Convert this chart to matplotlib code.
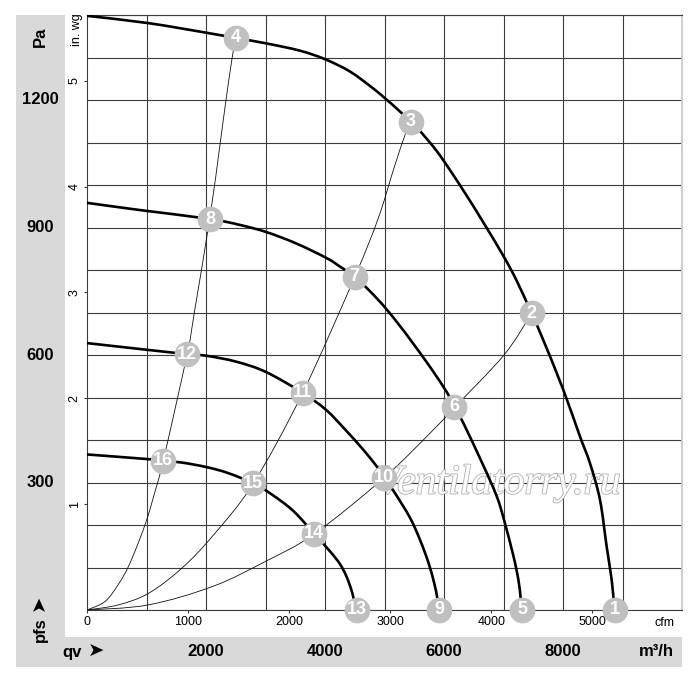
import matplotlib
matplotlib.use("Agg")
import matplotlib.pyplot as plt
import matplotlib.patheffects as pe
from matplotlib.patches import Rectangle, PathPatch
from matplotlib.path import Path
from matplotlib.transforms import blended_transform_factory

plt.rcParams['font.family'] = ['Liberation Sans', 'DejaVu Sans']

# fan curves: flow in m3/h, static pressure in Pa
curve1_q = [0, 1025, 2017, 2500, 3020, 3580, 4000, 4420, 4812, 5008, 5205, 5440, 5597, 5877,
            6101, 6381, 6661, 7003, 7224, 7473, 7669, 8005, 8286, 8454, 8622, 8734, 8818, 8857, 8880]
curve1_p = [1398, 1381, 1358, 1346, 1333, 1316, 1296, 1267, 1227, 1204, 1180, 1149, 1127, 1080,
            1035, 975, 912, 832, 774, 698, 635, 518, 408, 345, 259, 149, 71, 16, 0]

curve2_q = [0, 891, 2067, 2571, 3020, 3524, 4028, 4252, 4500, 4756, 5008, 5261, 5429, 5765,
            6045, 6173, 6325, 6661, 6885, 7003, 7165, 7249, 7288, 7300]
curve2_p = [958, 941, 920, 906, 889, 862, 828, 808, 784, 750, 712, 668, 637, 572,
            513, 480, 440, 340, 268, 215, 128, 72, 28, 0]

curve3_q = [0, 1025, 1686, 2017, 2516, 3008, 3625, 4017, 4336, 4644, 4868, 4992, 5176, 5429,
            5597, 5737, 5832, 5888, 5910]
curve3_p = [628, 612, 602, 598, 584, 560, 511, 471, 425, 377, 338, 313, 275, 217,
            165, 112, 65, 28, 0]

curve4_q = [0, 1025, 1283, 1591, 2017, 2375, 2796, 3104, 3468, 3821, 4084, 4252, 4364,
            4448, 4487, 4500]
curve4_p = [366, 355, 351, 347, 336, 322, 298, 272, 233, 179, 138, 108, 78,
            45, 22, 0]

# system resistance lines
sysA_q = [0, 303, 526, 695, 862, 1003, 1115, 1283, 1686, 1804, 2067, 2235, 2336, 2440, 2500]
sysA_p = [0, 20, 60, 102, 158, 212, 265, 352, 604, 700, 925, 1095, 1200, 1300, 1347]

sysB_q = [0, 526, 1031, 1591, 2123, 2796, 3625, 4500, 4896, 5148, 5345, 5440]
sysB_p = [0, 12, 39, 98, 176, 298, 511, 784, 922, 1035, 1118, 1149]

sysC_q = [0, 1031, 2123, 3008, 3821, 4992, 5821, 6173, 7008, 7473]
sysC_p = [0, 12, 56, 115, 179, 311, 424, 476, 600, 698]

# numbered operating points
badge_num = [1, 2, 3, 4, 5, 6, 7, 8, 9, 10, 11, 12, 13, 14, 15, 16]
badge_q = [8874, 7473, 5440, 2500, 7316, 6173, 4500, 2067, 5921, 4992, 3625, 1686, 4532, 3821, 2796, 1283]
badge_p = [0, 698, 1149, 1347, 0, 478, 784, 920, 0, 311, 511, 602, 0, 179, 298, 351]

cfm_ticks = [0, 1000, 2000, 3000, 4000, 5000]
inwg_ticks = [1, 2, 3, 4, 5]
pa_labels = [300, 600, 900, 1200]
m3h_labels = [2000, 4000, 6000, 8000]

BAND = '#d9d9d9'
GRID = '#3c3c3c'
BADGE = '#c0c0c0'


# smooth curve through the read points (Catmull-Rom drawn as cubic Bezier)
def smooth_path(q, p):
    verts = [(q[0], p[0])]
    codes = [Path.MOVETO]
    n = len(q)
    for i in range(n - 1):
        qa, pa = (q[i - 1], p[i - 1]) if i > 0 else (q[i], p[i])
        qd, pd = (q[i + 2], p[i + 2]) if i + 2 < n else (q[i + 1], p[i + 1])
        verts.append((q[i] + (q[i + 1] - qa) / 6, p[i] + (p[i + 1] - pa) / 6))
        verts.append((q[i + 1] - (qd - q[i]) / 6, p[i + 1] - (pd - p[i]) / 6))
        verts.append((q[i + 1], p[i + 1]))
        codes += [Path.CURVE4] * 3
    return Path(verts, codes)


W, H = 700, 680
fig = plt.figure(figsize=(W / 100, H / 100), dpi=100)
fig.patches.append(Rectangle((16 / W, 13 / H), 49 / W, 652 / H, transform=fig.transFigure,
                             facecolor=BAND, edgecolor='none', zorder=-1))
fig.patches.append(Rectangle((16 / W, 13 / H), 666 / W, 30 / H, transform=fig.transFigure,
                             facecolor=BAND, edgecolor='none', zorder=-1))

ax = fig.add_axes([87 / W, 70 / H, 595 / W, 595 / H])
ax.set_xlim(0, 10000)
ax.set_ylim(0, 1400)

# grid every 1000 m3/h and 100 Pa
ax.set_xticks(range(0, 10001, 1000), minor=True)
ax.set_yticks(range(0, 1401, 100), minor=True)
ax.grid(which='minor', color=GRID, linewidth=0.8)
ax.grid(which='major', visible=False)
ax.tick_params(which='minor', length=0)
ax.set_axisbelow(True)

# cfm axis (bottom) and in. wg axis (left)
ax.set_xticks([c * 1.699 for c in cfm_ticks])
ax.set_xticklabels([str(c) for c in cfm_ticks], fontsize=9)
ax.set_yticks([v * 249.09 for v in inwg_ticks])
ax.set_yticklabels([str(v) for v in inwg_ticks], fontsize=9, rotation=90, va='center')
ax.tick_params(which='major', length=2.5, width=0.8, pad=2, color=GRID)

for side in ['left', 'bottom', 'top']:
    ax.spines[side].set_color(GRID)
    ax.spines[side].set_linewidth(0.8)
ax.spines['right'].set_color('#c8c8c8')
ax.spines['right'].set_linewidth(1.2)

for q, p in [(sysA_q, sysA_p), (sysB_q, sysB_p), (sysC_q, sysC_p)]:
    ax.add_patch(PathPatch(smooth_path(q, p), fill=False, edgecolor='#111111',
                           linewidth=0.6, zorder=3))

ax.text(0.692, 0.213, 'Ventilatorry.ru', transform=ax.transAxes, ha='center', va='center',
        fontsize=30, style='italic', family='Liberation Serif', color='white', zorder=4,
        path_effects=[pe.withStroke(linewidth=1.3, foreground='#b4b4b4')])

for q, p in [(curve1_q, curve1_p), (curve2_q, curve2_p), (curve3_q, curve3_p), (curve4_q, curve4_p)]:
    ax.add_patch(PathPatch(smooth_path(q, p), fill=False, edgecolor='black',
                           linewidth=1.9, zorder=5, capstyle='round'))

ax.plot(badge_q, badge_p, linestyle='none', marker='o', markersize=18.5,
        markerfacecolor=BADGE, markeredgecolor='none', zorder=6, clip_on=False)
for n, q, p in zip(badge_num, badge_q, badge_p):
    ax.text(q, p, str(n), ha='center', va='center', color='white', fontsize=13,
            fontweight='bold', zorder=7, clip_on=False)

ax.text(0.971, -0.012, 'cfm', transform=ax.transAxes, ha='center', va='top', fontsize=9)
ax.text(-0.017, 0.975, 'in. wg', transform=ax.transAxes, ha='center', va='center',
        rotation=90, fontsize=9)

# bold labels in the grey band
tr_pa = blended_transform_factory(fig.transFigure, ax.transData)
for v in pa_labels:
    ax.text(40 / W, v, str(v), transform=tr_pa, ha='center', va='center',
            fontsize=12, fontweight='bold', clip_on=False)
tr_q = blended_transform_factory(ax.transData, fig.transFigure)
for v in m3h_labels:
    ax.text(v, 28 / H, str(v), transform=tr_q, ha='center', va='center',
            fontsize=12, fontweight='bold', clip_on=False)

fig.text(40 / W, (H - 37) / H, 'Pa', rotation=90, ha='center', va='center',
         fontsize=12, fontweight='bold')
fig.text(62 / W, 28 / H, 'qv', ha='left', va='center', fontsize=12, fontweight='bold')
fig.text(96 / W, 28 / H, '➤', ha='center', va='center', fontsize=14, fontweight='bold')
fig.text(656 / W, 28 / H, 'm³/h', ha='center', va='center', fontsize=12, fontweight='bold')
fig.text(40 / W, (H - 630) / H, 'pfs', rotation=90, ha='center', va='center',
         fontsize=12, fontweight='bold')
fig.text(40 / W, (H - 603) / H, '➤', rotation=90, ha='center', va='center',
         fontsize=14, fontweight='bold')

fig.savefig('out.png', dpi=100)
